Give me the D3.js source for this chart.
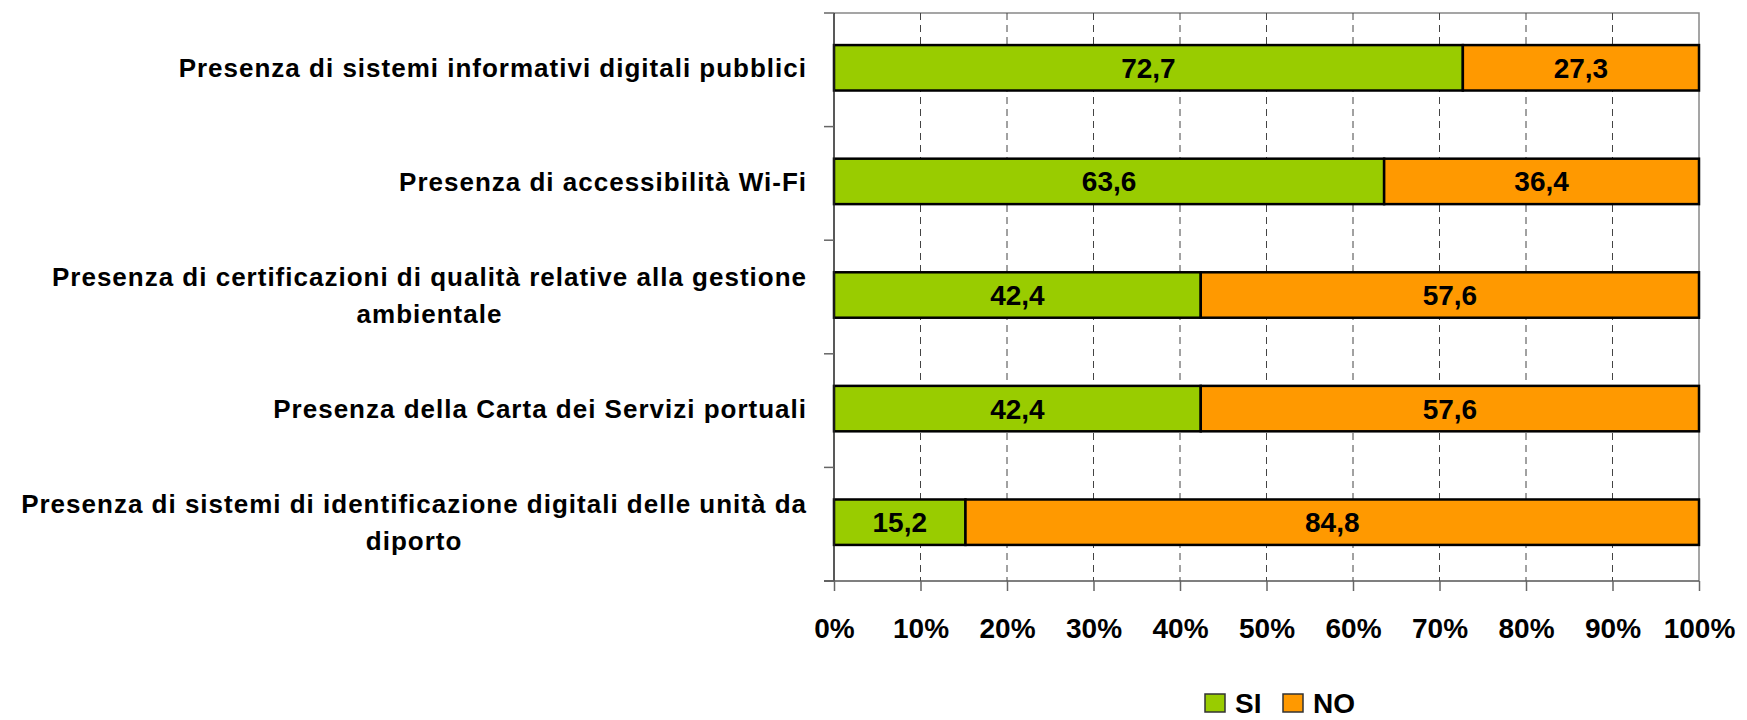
<!DOCTYPE html>
<html>
<head>
<meta charset="utf-8">
<script src="https://cdnjs.cloudflare.com/ajax/libs/d3/7.8.5/d3.min.js"></script>
<style>
    body { margin: 0; background: #fff; }
    svg { display: block; font-family: "Liberation Sans", Arial, sans-serif; font-weight: bold; }
</style>
</head>
<body>
<div id="chart"></div>
<script>
// categories, top to bottom (line breaks as in the original)
var categories = [
    "Presenza di sistemi informativi digitali pubblici",
    "Presenza di accessibilità Wi-Fi",
    "Presenza di certificazioni di qualità relative alla gestione\nambientale",
    "Presenza della Carta dei Servizi portuali",
    "Presenza di sistemi di identificazione digitali delle unità da\ndiporto"
];
var siValues = [72.7, 63.6, 42.4, 42.4, 15.2];
var noValues = [27.3, 36.4, 57.6, 57.6, 84.8];
var seriesNames = ["SI", "NO"];
var seriesColors = ["#99cc00", "#ff9900"];
var xTicks = [0, 10, 20, 30, 40, 50, 60, 70, 80, 90, 100];

drawChart();

function drawChart() {
    const width = 1747, height = 720;
    const pl = 834, pr = 1699, pt = 13, pb = 581;

    const svg = d3.select("#chart")
        .append("svg")
        .attr("width", width)
        .attr("height", height);

    const x = d3.scaleLinear().domain([0, 100]).range([pl, pr]);
    const y = d3.scaleBand().domain(categories).range([pt, pb]).paddingInner(0.6).paddingOuter(0.3);
    const yBand = d3.scaleBand().domain(categories).range([pt, pb]).padding(0);

    // plot border (top + right)
    svg.append("path")
        .attr("d", "M" + pl + "," + pt + "H" + pr + "V" + pb)
        .attr("fill", "none")
        .attr("stroke", "#888")
        .attr("stroke-width", 1.5);

    // dashed gridlines
    svg.append("g")
        .selectAll("line")
        .data(xTicks.slice(1, -1))
        .enter().append("line")
        .attr("x1", d => x(d)).attr("x2", d => x(d))
        .attr("y1", pt).attr("y2", pb)
        .attr("stroke", "#444")
        .attr("stroke-width", 1)
        .attr("stroke-dasharray", "7,5");

    // stacked bars
    const rows = categories.map(function(c, i) {
        return { cat: c, parts: [
            { cat: c, x0: 0, x1: siValues[i], v: siValues[i] },
            { cat: c, x0: siValues[i], x1: siValues[i] + noValues[i], v: noValues[i] }
        ]};
    });

    const rowG = svg.append("g")
        .selectAll("g")
        .data(rows)
        .enter().append("g");

    rowG.selectAll("rect")
        .data(d => d.parts)
        .enter().append("rect")
        .attr("x", d => x(d.x0))
        .attr("width", d => x(d.x1) - x(d.x0))
        .attr("y", d => y(d.cat) - 2)
        .attr("height", y.bandwidth())
        .attr("fill", (d, i) => seriesColors[i])
        .attr("stroke", "#000")
        .attr("stroke-width", 2.5);

    rowG.selectAll("text")
        .data(d => d.parts)
        .enter().append("text")
        .attr("x", d => (x(d.x0) + x(d.x1)) / 2)
        .attr("y", d => y(d.cat) - 2 + y.bandwidth() / 2)
        .attr("dy", "0.36em")
        .attr("text-anchor", "middle")
        .style("font-size", "28px")
        .text(d => d.v.toFixed(1).replace(".", ","));

    // y axis
    const yAxis = svg.append("g")
        .attr("transform", "translate(" + pl + ",0)");
    yAxis.append("line")
        .attr("x1", 0).attr("x2", 0).attr("y1", pt).attr("y2", pb)
        .attr("stroke", "#222").attr("stroke-width", 1.5);
    const bounds = categories.map(c => yBand(c)).concat([pb]);
    yAxis.selectAll(".ytick")
        .data(bounds)
        .enter().append("line")
        .attr("class", "ytick")
        .attr("x1", -10).attr("x2", 0)
        .attr("y1", d => d).attr("y2", d => d)
        .attr("stroke", "#666").attr("stroke-width", 1.5);

    // category labels
    const labelG = svg.append("g");
    categories.forEach(function(c) {
        const lines = c.split("\n");
        const lh = 37;
        const cy = yBand(c) + yBand.bandwidth() / 2 - 2;
        const t = labelG.append("text")
            .attr("text-anchor", "middle")
            .style("font-size", "26px")
            .style("letter-spacing", "1px");
        lines.forEach(function(l, i) {
            t.append("tspan")
                .attr("x", 0)
                .attr("y", cy + (i - (lines.length - 1) / 2) * lh)
                .attr("dy", "0.36em")
                .text(l);
        });
        // right-align the block, centre the lines inside it
        const w = t.node().getBBox().width;
        t.selectAll("tspan").attr("x", pl - 27 - w / 2);
    });

    // x axis
    const xAxis = svg.append("g")
        .attr("transform", "translate(0," + pb + ")")
        .call(d3.axisBottom(x).tickValues(xTicks).tickSize(10).tickPadding(27).tickFormat(d => d + "%"));
    xAxis.select(".domain").attr("stroke", "#555").attr("stroke-width", 1.5).attr("d", "M" + (pl - 10) + ",0H" + pr);
    xAxis.selectAll(".tick line").attr("stroke", "#666").attr("stroke-width", 1.5);
    xAxis.selectAll(".tick text")
        .attr("fill", "#000")
        .style("font-size", "28px")
        .style("font-family", "'Liberation Sans', Arial, sans-serif")
        .style("font-weight", "bold");

    // legend
    const legend = svg.append("g").attr("transform", "translate(1205,694)");
    const legX = [0, 78];
    seriesNames.forEach(function(n, i) {
        const g = legend.append("g").attr("transform", "translate(" + legX[i] + ",0)");
        g.append("rect")
            .attr("width", 20).attr("height", 18)
            .attr("fill", seriesColors[i])
            .attr("stroke", "#333").attr("stroke-width", 1.5);
        g.append("text")
            .attr("x", 30).attr("y", 9).attr("dy", "0.34em")
            .style("font-size", "28px")
            .text(n);
    });
}
</script>
</body>
</html>
